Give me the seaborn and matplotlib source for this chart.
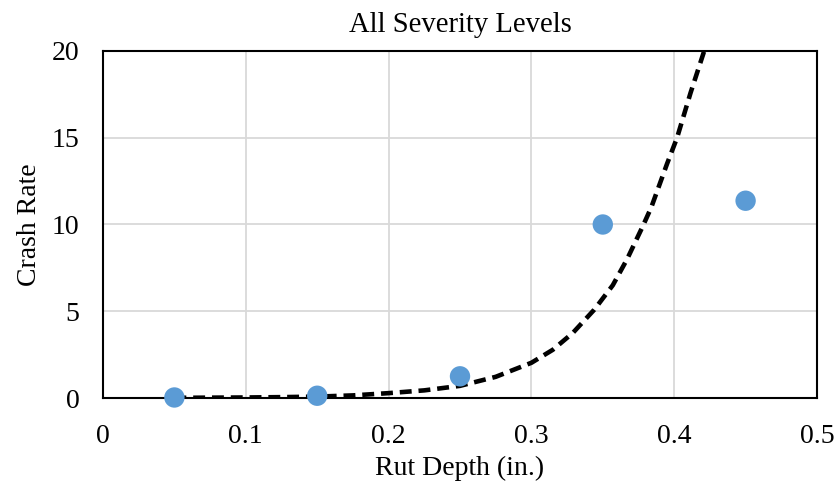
import matplotlib
matplotlib.use("Agg")
import matplotlib.pyplot as plt
import seaborn as sns
import pandas as pd

# Observed data points
rut_depth = [0.05, 0.15, 0.25, 0.35, 0.45]
crash_rate = [0.03, 0.13, 1.25, 10.0, 11.37]

# Trendline values
trend_x = [0.05, 0.10, 0.125, 0.15, 0.175, 0.20, 0.225, 0.25, 0.275, 0.30,
           0.315, 0.329, 0.344, 0.357, 0.367, 0.378, 0.384, 0.395, 0.402, 0.4115, 0.421]
trend_y = [0.01, 0.03, 0.05, 0.08, 0.15, 0.28, 0.44, 0.70, 1.22, 2.03,
           2.78, 3.75, 5.09, 6.50, 8.00, 9.90, 11.0, 13.5, 15.0, 17.6, 20.0]

x_ticks = [0, 0.1, 0.2, 0.3, 0.4, 0.5]
x_tick_labels = ["0", "0.1", "0.2", "0.3", "0.4", "0.5"]
y_ticks = [0, 5, 10, 15, 20]

title = "All Severity Levels"
x_label = "Rut Depth (in.)"
y_label = "Crash Rate"

sns.set_theme(style="whitegrid")
plt.rcParams["font.family"] = ["Liberation Serif", "DejaVu Serif"]

fig = plt.figure(figsize=(8.39, 4.90), dpi=100)
ax = fig.add_axes([103 / 839, 1 - 398 / 490, (817 - 103) / 839, (398 - 51) / 490])

df_pts = pd.DataFrame({"x": rut_depth, "y": crash_rate})
df_trend = pd.DataFrame({"x": trend_x, "y": trend_y})

sns.lineplot(data=df_trend, x="x", y="y", ax=ax, color="black", linewidth=3.3,
             linestyle=(0, (2.6, 1.5)), sort=True, zorder=3)
sns.scatterplot(data=df_pts, x="x", y="y", ax=ax, color="#5b9bd5", s=215,
                edgecolor="none", zorder=4, clip_on=False)

ax.set_xlim(0, 0.5)
ax.set_ylim(0, 20)
ax.set_xticks(x_ticks)
ax.set_xticklabels(x_tick_labels)
ax.set_yticks(y_ticks)

ax.grid(True, color="#d9d9d9", linewidth=1.3)
for s in ax.spines.values():
    s.set_visible(True)
    s.set_color("black")
    s.set_linewidth(1.5)
ax.tick_params(axis="both", which="both", length=0, labelsize=20, colors="black")
ax.tick_params(axis="x", pad=19)
ax.tick_params(axis="y", pad=17)

ax.set_title(title, fontsize=20.6, color="black", pad=14)
ax.set_xlabel(x_label, fontsize=20, color="black", labelpad=5)
ax.set_ylabel(y_label, fontsize=20, color="black", labelpad=7)

fig.savefig("out.png", dpi=100)
